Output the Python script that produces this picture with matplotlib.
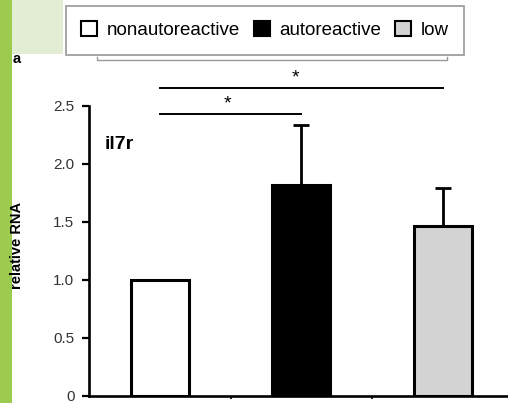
import matplotlib
matplotlib.use("Agg")
import matplotlib.pyplot as plt
from matplotlib.patches import Rectangle, Patch
from matplotlib.lines import Line2D

categories = ["nonautoreactive", "autoreactive", "low"]
values = [1.0, 1.82, 1.46]
err_upper = [0.0, 0.51, 0.33]
colors = ["white", "black", "#d3d3d3"]
yticks = [0, 0.5, 1.0, 1.5, 2.0, 2.5]
yticklabels = ["0", "0.5", "1.0", "1.5", "2.0", "2.5"]
sig_pairs = [(0, 1), (0, 2)]
sig_levels = [2.43, 2.655]

plt.rcParams['font.family'] = ['Liberation Sans', 'DejaVu Sans']

W, H = 508, 403
fig = plt.figure(figsize=(W / 100, H / 100), dpi=100)

# background decoration (slide)
fig.patches.append(Rectangle((0, 1 - 54 / H), 63 / W, 54 / H, transform=fig.transFigure,
                             facecolor="#e3edd3", edgecolor="none", zorder=0))
fig.patches.append(Rectangle((0, 0), 12 / W, 1, transform=fig.transFigure,
                             facecolor="#9ccb4f", edgecolor="none", zorder=0))

left, right = 89 / W, 1.0
bottom, top = (H - 395.7) / H, (H - 105.7) / H
ax = fig.add_axes([left, bottom, right - left, top - bottom])
ax.set_facecolor("none")

x = list(range(len(categories)))
bars = ax.bar(x, values, width=0.41, color=colors, edgecolor="black", linewidth=2.2, zorder=2)
ax.errorbar(x[1:], values[1:], yerr=[[0] * 2, err_upper[1:]], fmt="none", ecolor="black",
            elinewidth=2.0, capsize=5.5, capthick=2.0, zorder=1)

ax.set_xlim(-0.5, 2.46)
ax.set_ylim(0, 2.5)
ax.set_yticks(yticks)
ax.set_yticklabels(yticklabels, fontsize=11, color="#333333")
ax.set_xticks([0.5, 1.5])
ax.set_xticklabels([])
ax.tick_params(axis="y", direction="out", length=5, width=1.6, pad=5.5)
ax.tick_params(axis="x", direction="out", length=2.5, width=1.2)
for s in ["top", "right"]:
    ax.spines[s].set_visible(False)
for s in ["left", "bottom"]:
    ax.spines[s].set_linewidth(1.9)

fig.text(17.5 / W, 1 - 245 / H, "relative RNA", rotation=90, ha="center", va="center",
         fontsize=10.5, fontweight="bold", zorder=5)
ax.text(0.038, 0.85, "il7r", transform=ax.transAxes, fontsize=14, fontweight="bold")

# significance bars
for (a, b), lvl, dx in zip(sig_pairs, sig_levels, [-0.02, -0.04]):
    ax.plot([a, b], [lvl, lvl], color="black", lw=1.4, clip_on=False)
    ax.text((a + b) / 2 + dx, lvl + 0.01, "*", ha="center", va="bottom", fontsize=14, clip_on=False)

# legend
handles = [Patch(facecolor=c, edgecolor="black", linewidth=1.5) for c in colors]
leg = fig.legend(handles, categories, loc="upper left", bbox_to_anchor=(66 / W, 1 - 6 / H),
                 ncol=3, fontsize=13.5, frameon=True, fancybox=False, handlelength=0.85,
                 handleheight=0.85, handletextpad=0.5, columnspacing=0.75, borderpad=0.82,
                 borderaxespad=0)
leg.get_frame().set_edgecolor("#888888")
leg.get_frame().set_linewidth(1.3)

# bracket below legend
yb = 1 - 60 / H
yt = 1 - 57 / H
fig.lines.append(Line2D([97 / W, 97 / W, 447 / W, 447 / W], [yt, yb, yb, yt],
                        transform=fig.transFigure, color="#999999", lw=1.0))

fig.text(13 / W, 1 - 63 / H, "a", fontsize=10.5, fontweight="bold")

fig.savefig("out.png", dpi=100)
